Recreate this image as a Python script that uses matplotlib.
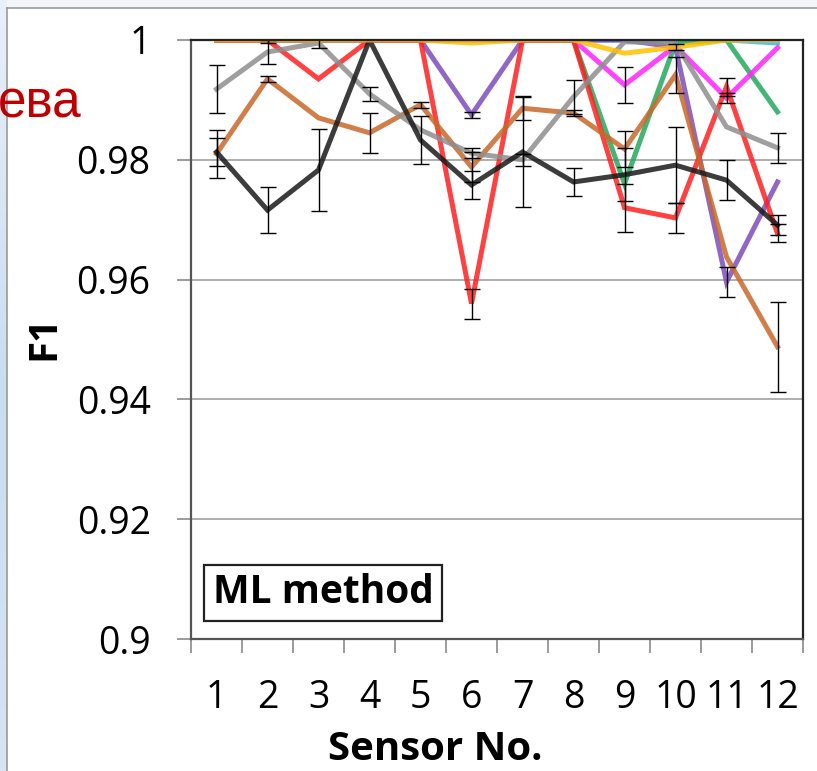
import numpy as np
import matplotlib.pyplot as plt
from matplotlib.patches import Rectangle
from matplotlib.colors import LinearSegmentedColormap
from matplotlib.ticker import FixedLocator, FixedFormatter

sensors = list(range(1, 13))
x_labels = [str(s) for s in sensors]
y_ticks = [0.9, 0.92, 0.94, 0.96, 0.98, 1.0]
y_labels = ['0.9', '0.92', '0.94', '0.96', '0.98', '1']

# F1 per sensor for each run, with error bar half-widths (0 = no bar)
cyan = [1, 1, 1, 1, 1, 1, 1, 1, 1, 1, 1, 0.9995]
green = [1, 1, 1, 1, 1, 1, 1, 1, 0.976, 0.9995, 1, 0.988]
magenta = [1, 1, 1, 1, 1, 1, 1, 1, 0.9925, 0.999, 0.9903, 0.9987]
magenta_err = [0, 0, 0, 0, 0, 0, 0, 0, 0.003, 0, 0.0008, 0]
purple = [1, 1, 1, 1, 1, 0.9875, 1, 1, 1, 0.9988, 0.9596, 0.9763]
purple_err = [0, 0, 0, 0, 0, 0.0005, 0, 0, 0, 0.0005, 0.0025, 0.0]
red = [1, 1, 0.9935, 1, 1, 0.956, 1, 1, 0.972, 0.9703, 0.9922, 0.9677]
red_err = [0, 0.0005, 0, 0, 0, 0.0025, 0, 0, 0.004, 0.0025, 0.0015, 0.0015]
orange = [0.981, 0.9935, 0.987, 0.9845, 0.9892, 0.9788, 0.9886, 0.9878, 0.9818, 0.9942, 0.9638, 0.9488]
orange_err = [0.004, 0.0005, 0, 0.0033, 0.0005, 0.0025, 0.002, 0.0005, 0.003, 0.003, 0.0, 0.0075]
gray = [0.9918, 0.998, 0.9995, 0.991, 0.985, 0.9811, 0.980, 0.9905, 0.9997, 0.9995, 0.9855, 0.982]
gray_err = [0.004, 0.002, 0.0008, 0.0012, 0, 0.0008, 0.001, 0.0028, 0, 0, 0, 0.0025]
black = [0.9813, 0.9716, 0.9783, 1.0, 0.9833, 0.9758, 0.9813, 0.9763, 0.9775, 0.9791, 0.9766, 0.9691]
black_err = [0.0023, 0.0038, 0.0068, 0, 0.004, 0.0023, 0.0092, 0.0023, 0.0044, 0.0063, 0.0033, 0.0017]
yellow = [1, 1, 1, 1, 1, 0.9995, 1, 1, 0.9978, 0.9988, 1, 1]

series = [
    (cyan, None, '#33b8ee'),
    (green, None, '#22a85c'),
    (magenta, magenta_err, '#ff22ff'),
    (purple, purple_err, '#7d4cbb'),
    (red, red_err, '#ff1f1f'),
    (orange, orange_err, '#c8692a'),
    (gray, gray_err, '#8e8e8e'),
    (black, black_err, '#1a1a1a'),
    (yellow, None, '#ffc000'),
]

plt.rcParams['font.family'] = ['Open Sans', 'DejaVu Sans']

W, H = 817, 771
fig = plt.figure(figsize=(W / 100, H / 100), dpi=100)

# slide background: blue strip on the left, frame lines
strip = fig.add_axes([0, 0, 7 / W, 1])
grad = np.linspace(0, 1, 200).reshape(-1, 1)
strip.imshow(grad, aspect='auto', extent=[0, 1, 0, 1],
             cmap=LinearSegmentedColormap.from_list('strip', ['#e8f0f9', '#c9ddf1', '#d6e4f3']))
strip.axis('off')
fig.patches.append(Rectangle((7 / W, 1 - 8 / H), 1, 8 / H, transform=fig.transFigure,
                             facecolor='#f2f6fb', edgecolor='none', zorder=0))
fig.add_artist(plt.Line2D([7 / W, 7 / W], [0, 1 - 8 / H], color='#9a9a9a', lw=1.2))
fig.add_artist(plt.Line2D([7 / W, 1], [1 - 8 / H, 1 - 8 / H], color='#9a9a9a', lw=1.2))
fig.text(82 / W, 1 - 117 / H, 'ева', color='#c00000', fontsize=37,
         family=['Liberation Sans', 'DejaVu Sans'], ha='right', va='baseline')

ax = fig.add_axes([191 / W, 132 / H, 612 / W, 599 / H])

for vals, err, col in series:
    ax.plot(sensors, vals, color=col, lw=3.6, alpha=0.85, solid_joinstyle='miter', zorder=3)
for vals, err, col in series:
    if err is None:
        continue
    e = np.array(err)
    mask = e > 0
    ax.errorbar(np.array(sensors)[mask], np.array(vals)[mask], yerr=e[mask], fmt='none',
                ecolor='black', elinewidth=1.0, capsize=6, capthick=1.0, zorder=4)

ax.set_xlim(0.5, 12.5)
ax.set_ylim(0.9, 1.0)

ax.yaxis.set_major_locator(FixedLocator(y_ticks))
ax.yaxis.set_major_formatter(FixedFormatter(y_labels))
ax.xaxis.set_major_locator(FixedLocator(sensors))
ax.xaxis.set_major_formatter(FixedFormatter(x_labels))
ax.xaxis.set_minor_locator(FixedLocator(np.arange(0.5, 13, 1)))

ax.tick_params(axis='y', length=10, width=1.2, color='#8a8a8a', pad=19, labelsize=27)
ax.tick_params(axis='x', which='major', length=0, pad=29, labelsize=27)
ax.tick_params(axis='x', which='minor', length=10, width=1.2, color='#8a8a8a')

ax.grid(axis='y', color='#a8a8a8', lw=1.3, zorder=1)
for side in ['left', 'right', 'top', 'bottom']:
    ax.spines[side].set_linewidth(1.6)
    ax.spines[side].set_color('#222222')
    ax.spines[side].set_zorder(5)
ax.spines['left'].set_color('#555555')
ax.spines['bottom'].set_color('#555555')

fig.text(435 / W, 1 - 749 / H, 'Sensor No.', fontsize=29, fontweight='bold',
         ha='center', va='center')
fig.text(44 / W, 1 - 337 / H, 'F1', fontsize=29, fontweight='bold',
         ha='center', va='center', rotation=90)

ax.text(0.036, 0.077, 'ML method', transform=ax.transAxes, fontsize=28, fontweight='bold',
        va='center', ha='left', zorder=6,
        bbox=dict(boxstyle='square,pad=0.22', facecolor='white', edgecolor='#222222', lw=1.6))

fig.savefig('out.png', dpi=100)
